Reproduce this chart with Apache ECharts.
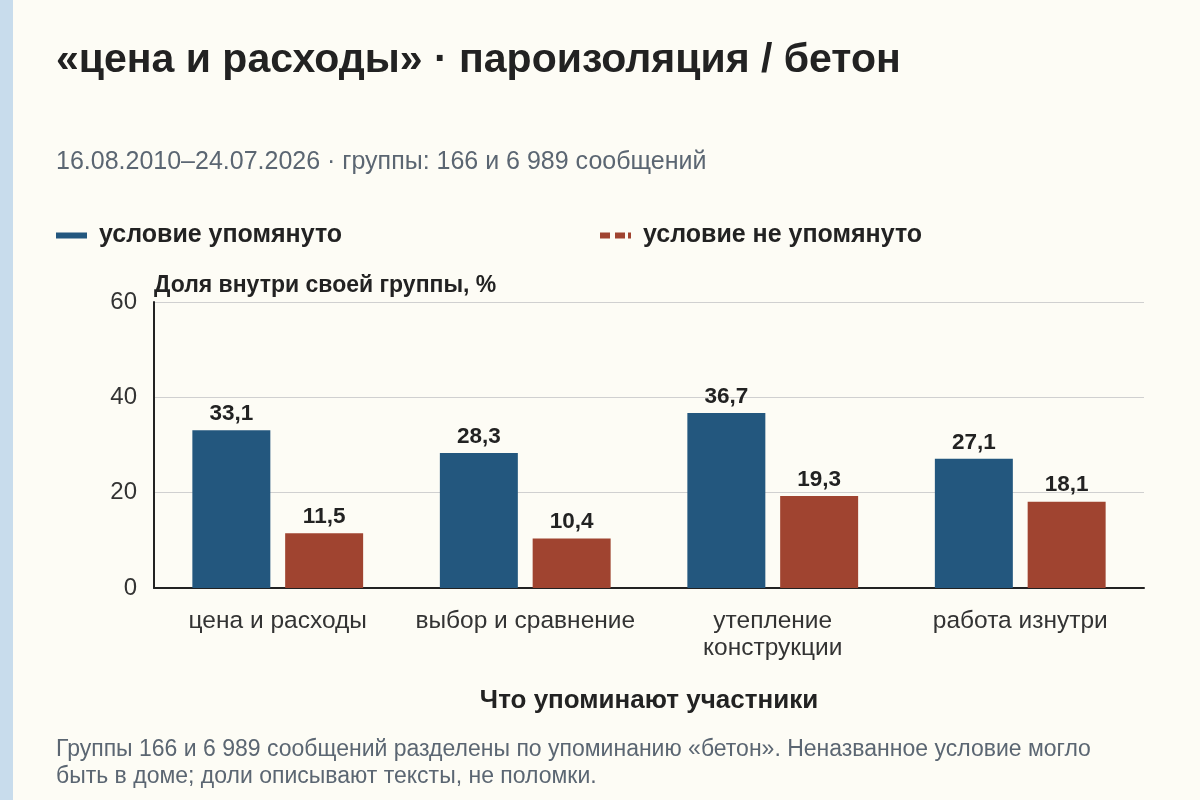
<!DOCTYPE html>
<html><head><meta charset="utf-8">
<script src="https://cdn.jsdelivr.net/npm/echarts@6/dist/echarts.min.js"></script>
<style>html,body{margin:0;padding:0;background:#fdfcf5;}#c{width:1200px;height:800px;}</style>
</head><body><div id="c"></div>
<script>
const categories = ['цена и расходы', 'выбор и сравнение', 'утепление\nконструкции', 'работа изнутри'];
const mentioned = [33.1, 28.3, 36.7, 27.1];
const notMentioned = [11.5, 10.4, 19.3, 18.1];
const yTicks = [0, 20, 40, 60];
const seriesNames = ['условие упомянуто', 'условие не упомянуто'];

const FONT = 'Liberation Sans';
const chart = echarts.init(document.getElementById('c'));
const fmt = p => String(p.value.toFixed(1)).replace('.', ',');
chart.setOption({
  backgroundColor: '#fdfcf5',
  animation: false,
  title: [
    {text: '«цена и расходы» · пароизоляция / бетон', left: 56, top: 40, padding: 0,
     textStyle: {fontFamily: FONT, fontSize: 41, fontWeight: 'bold', color: '#222'}},
    {text: '16.08.2010–24.07.2026 · группы: 166 и 6 989 сообщений', left: 56, top: 150, padding: 0,
     textStyle: {fontFamily: FONT, fontSize: 25, fontWeight: 'normal', color: '#5b6672'}},
    {text: 'Группы 166 и 6 989 сообщений разделены по упоминанию «бетон». Неназванное условие могло\nбыть в доме; доли описывают тексты, не поломки.', left: 56, top: 736, padding: 0,
     textStyle: {fontFamily: FONT, fontSize: 23, fontWeight: 'normal', color: '#5b6672', lineHeight: 27}}
  ],
  graphic: [{type: 'rect', left: 0, top: 0, shape: {width: 13, height: 800}, style: {fill: '#c8dcec'}}],
  legend: [
    {data: [{name: seriesNames[0], icon: 'rect'}], left: 56, top: 223, padding: 0, itemWidth: 31, itemHeight: 6,
     itemStyle: {borderWidth: 0},
     textStyle: {fontFamily: FONT, fontSize: 25, fontWeight: 'bold', color: '#222', padding: [0, 0, 0, 7]}},
    {data: [{name: seriesNames[1], icon: 'path://M0,0H10V6H0Z M15,0H25V6H15Z M28,0H31V6H28Z'}], left: 600, top: 223, padding: 0, itemWidth: 31, itemHeight: 6,
     itemStyle: {borderWidth: 0},
     textStyle: {fontFamily: FONT, fontSize: 25, fontWeight: 'bold', color: '#222', padding: [0, 0, 0, 7]}}
  ],
  grid: {left: 154, right: 56, top: 302, bottom: 212},
  xAxis: {
    type: 'category', data: categories,
    name: 'Что упоминают участники', nameLocation: 'middle', nameGap: 100,
    nameTextStyle: {fontFamily: FONT, fontSize: 26, fontWeight: 'bold', color: '#222'},
    axisLine: {lineStyle: {color: '#222', width: 2}},
    axisTick: {alignWithLabel: true, length: 5, lineStyle: {color: '#222'}},
    axisLabel: {interval: 0, fontFamily: FONT, fontSize: 24.5, color: '#333', margin: 20, lineHeight: 27}
  },
  yAxis: {
    type: 'value', min: 0, max: 60, interval: 20,
    name: 'Доля внутри своей группы, %', nameLocation: 'end', nameGap: 5,
    nameTextStyle: {fontFamily: FONT, fontSize: 23, fontWeight: 'bold', color: '#222', align: 'left'},
    axisLine: {show: true, lineStyle: {color: '#222', width: 2}},
    axisTick: {show: false},
    axisLabel: {fontFamily: FONT, fontSize: 24, color: '#333', margin: 17,
      formatter: v => yTicks.includes(v) ? String(v) : ''},
    splitLine: {lineStyle: {color: '#d0d0d0', width: 1}}
  },
  series: [
    {name: seriesNames[0], type: 'bar', data: mentioned, barGap: '19%', barCategoryGap: '31%',
     itemStyle: {color: '#23577e'},
     label: {show: true, position: 'top', distance: 5, formatter: fmt,
       fontFamily: FONT, fontSize: 22.5, fontWeight: 'bold', color: '#222'}},
    {name: seriesNames[1], type: 'bar', data: notMentioned,
     itemStyle: {color: '#a04430'},
     label: {show: true, position: 'top', distance: 5, formatter: fmt,
       fontFamily: FONT, fontSize: 22.5, fontWeight: 'bold', color: '#222'}}
  ]
});
</script></body></html>
